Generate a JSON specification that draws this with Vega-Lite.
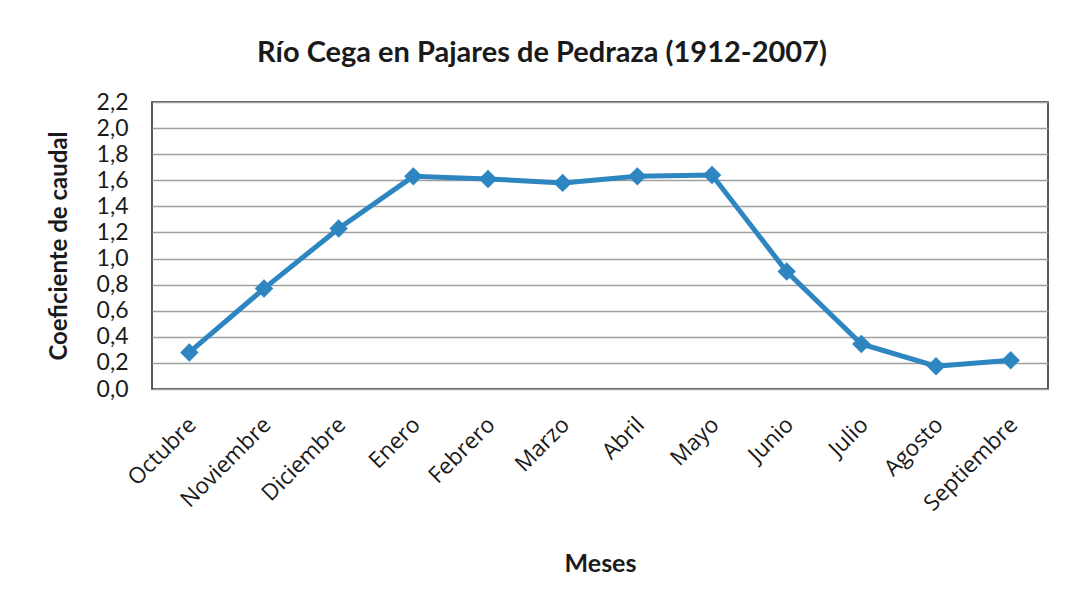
{
  "$schema": "https://vega.github.io/schema/vega-lite/v6.json",
  "width": 896,
  "height": 287,
  "autosize": "none",
  "padding": {"left": 152, "top": 102, "right": 20, "bottom": 217},
  "background": "white",
  "config": {
    "font": "Lato",
    "locale": {"number": {"decimal": ",", "thousands": ".", "grouping": [3], "currency": ["", " €"]}},
    "view": {"stroke": "#222222", "strokeWidth": 1.5}
  },
  "title": {
    "text": "Río Cega en Pajares de Pedraza (1912-2007)",
    "fontSize": 29,
    "fontWeight": "bold",
    "color": "#1a1a1a",
    "anchor": "middle",
    "dx": -58,
    "offset": 23
  },
  "data": {
    "values": [
      {"mes": "Octubre", "coef": 0.28},
      {"mes": "Noviembre", "coef": 0.77},
      {"mes": "Diciembre", "coef": 1.23},
      {"mes": "Enero", "coef": 1.63},
      {"mes": "Febrero", "coef": 1.61},
      {"mes": "Marzo", "coef": 1.58},
      {"mes": "Abril", "coef": 1.63},
      {"mes": "Mayo", "coef": 1.64},
      {"mes": "Junio", "coef": 0.90},
      {"mes": "Julio", "coef": 0.345},
      {"mes": "Agosto", "coef": 0.175},
      {"mes": "Septiembre", "coef": 0.22}
    ]
  },
  "encoding": {
    "x": {
      "field": "mes",
      "type": "nominal",
      "sort": null,
      "scale": {"type": "point", "padding": 0.5},
      "axis": {
        "title": "Meses",
        "titleFontSize": 25,
        "titleFontWeight": "bold",
        "titleColor": "#1a1a1a",
        "titlePadding": 37,
        "labelAngle": -45,
        "labelAlign": "right",
        "labelBaseline": "top",
        "labelFont": "Open Sans",
        "labelFontSize": 22.5,
        "labelColor": "#1a1a1a",
        "labelPadding": 24,
        "labelOffset": -5,
        "ticks": false,
        "domain": false,
        "grid": false
      }
    },
    "y": {
      "field": "coef",
      "type": "quantitative",
      "scale": {"domain": [0, 2.2], "nice": false},
      "axis": {
        "title": "Coeficiente de caudal",
        "titleFontSize": 24,
        "titleFontWeight": "bold",
        "titleColor": "#1a1a1a",
        "titlePadding": 25,
        "values": [0, 0.2, 0.4, 0.6, 0.8, 1.0, 1.2, 1.4, 1.6, 1.8, 2.0, 2.2],
        "format": ".1f",
        "labelFontSize": 23,
        "labelColor": "#1a1a1a",
        "labelPadding": 24,
        "ticks": false,
        "domain": false,
        "grid": true,
        "gridColor": "#a0a0a0",
        "gridWidth": 1.5
      }
    }
  },
  "layer": [
    {"mark": {"type": "line", "color": "#2e86c1", "strokeWidth": 5}},
    {"mark": {"type": "point", "shape": "diamond", "filled": true, "size": 340, "color": "#2e86c1", "opacity": 1}}
  ]
}
